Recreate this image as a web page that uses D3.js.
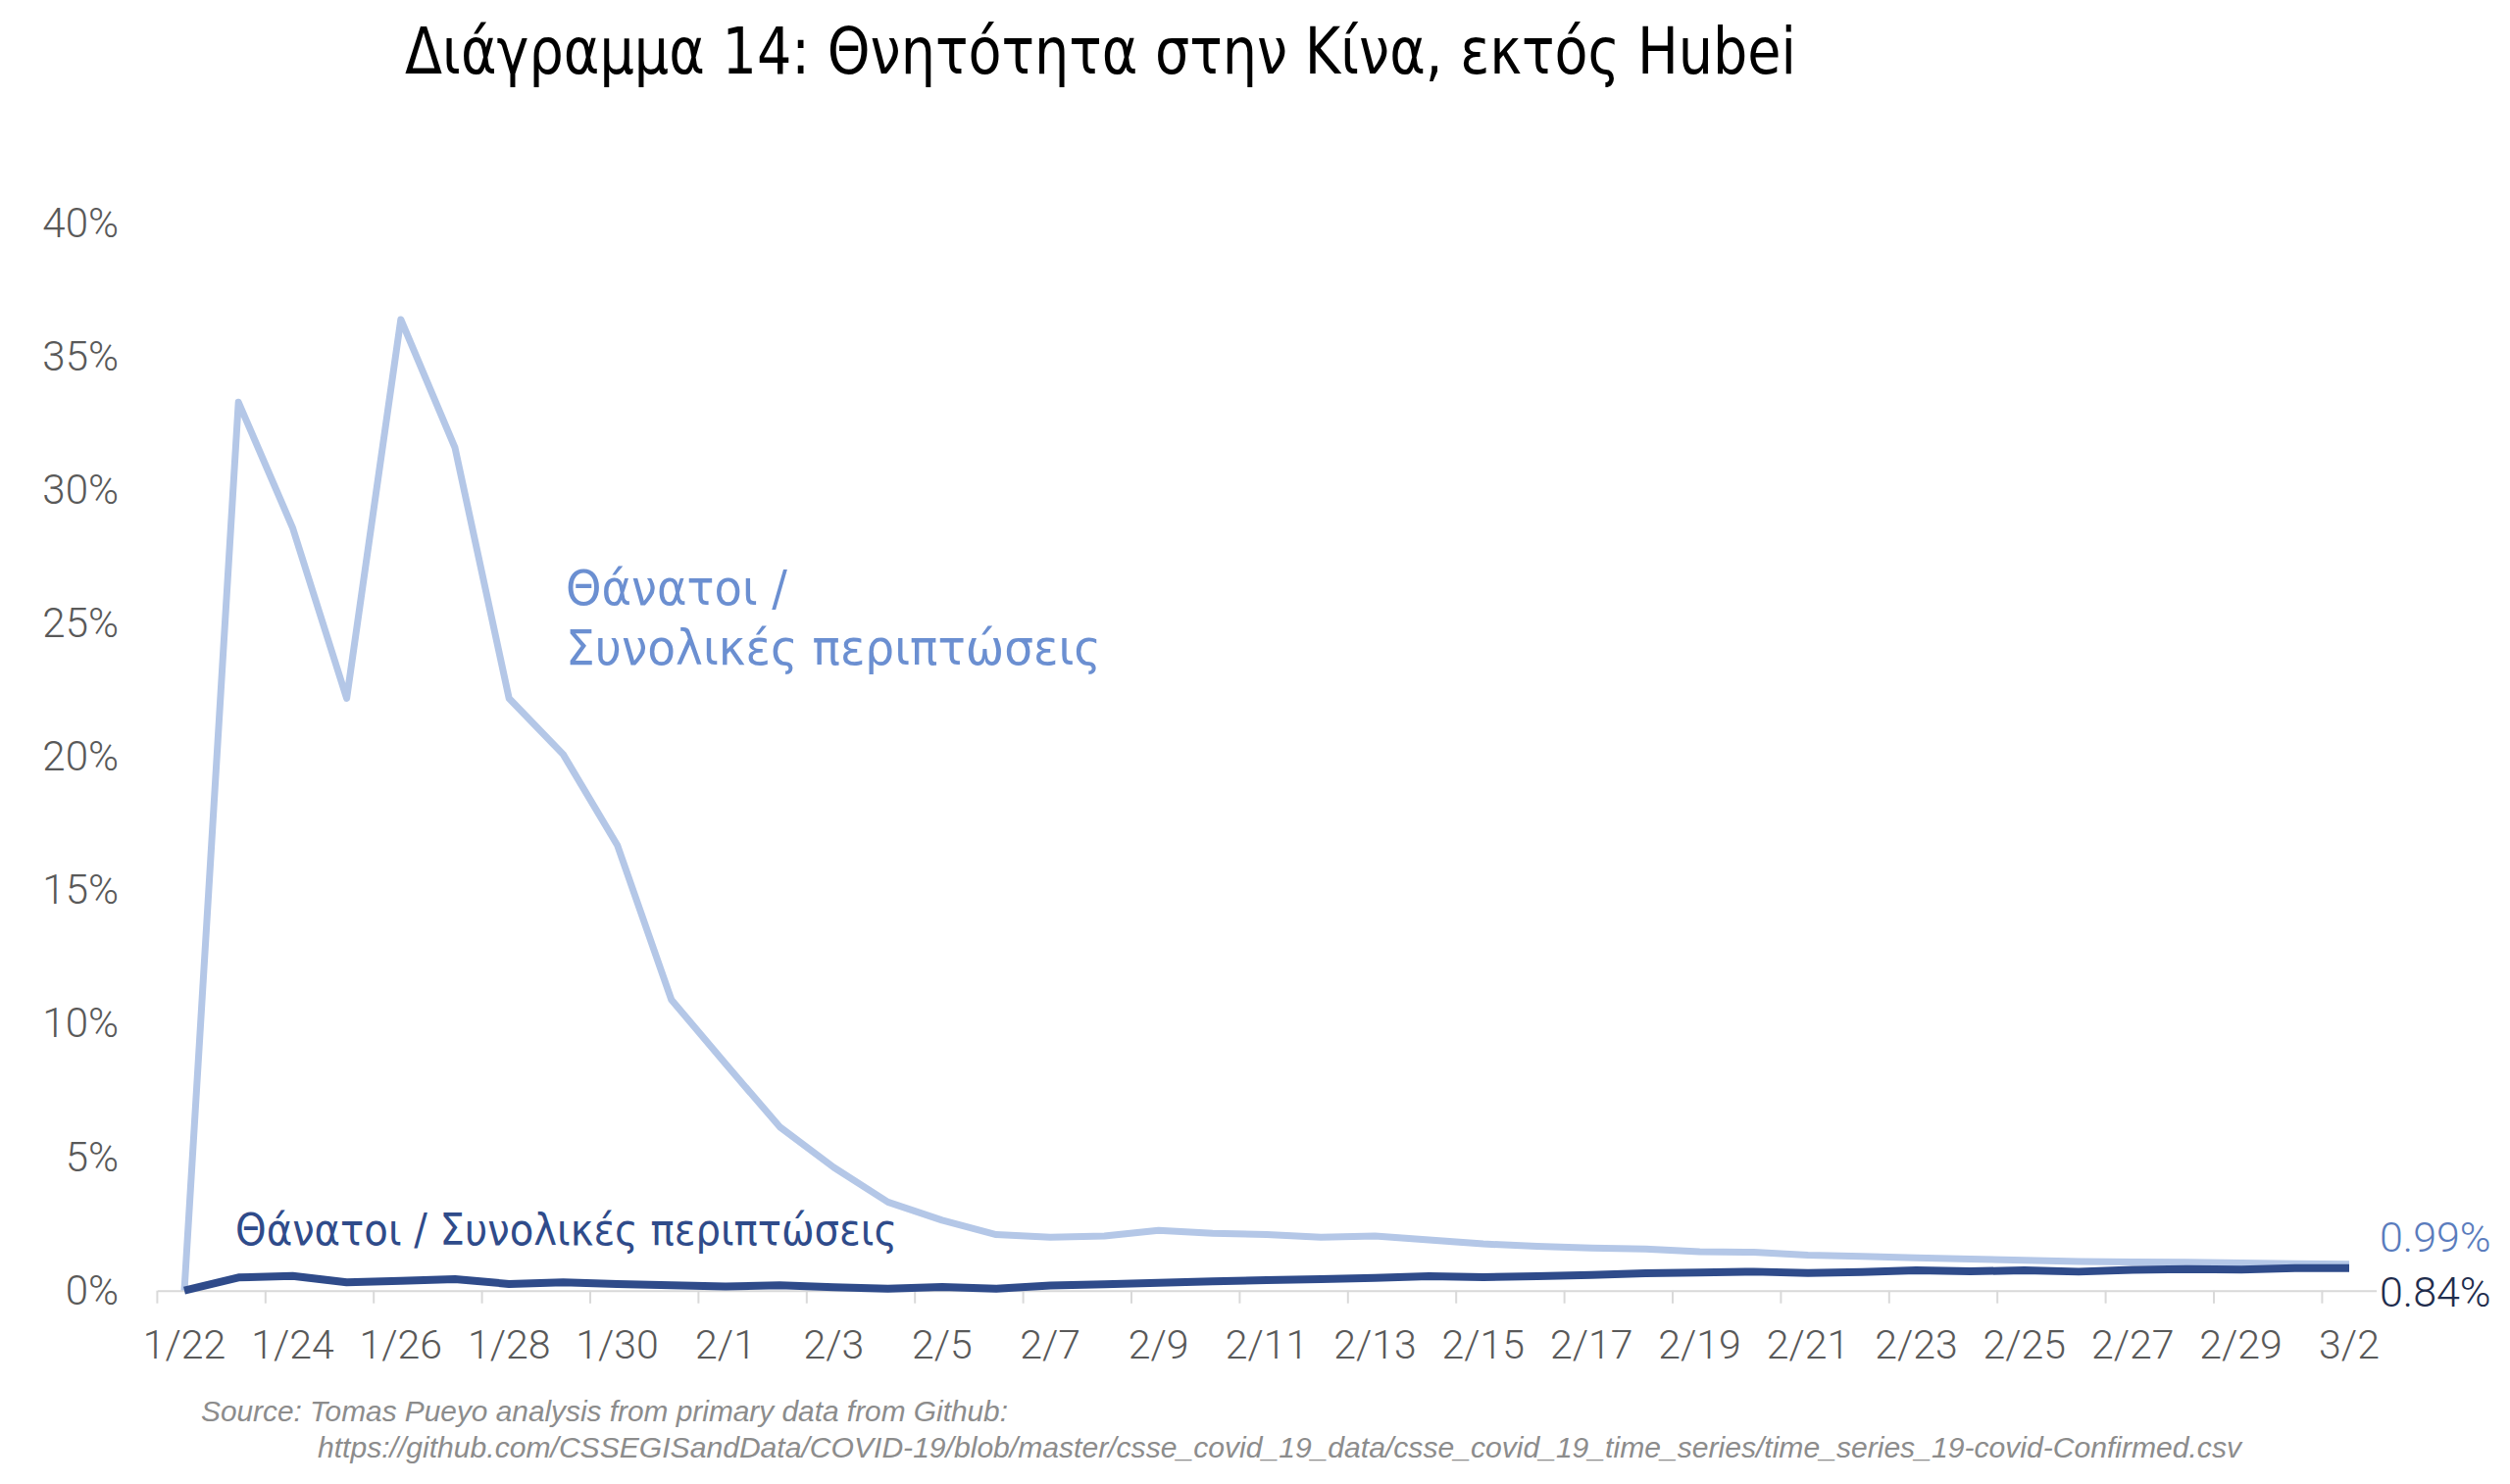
<!DOCTYPE html>
<html>
<head>
<meta charset="utf-8">
<script src="https://cdn.jsdelivr.net/npm/d3@7"></script>
<style>
  body { margin: 0; background: #fff; }
  svg { display: block; }
</style>
</head>
<body>
<div id="chart"></div>
<script>
// dates on the category axis, one per day
var dates = ["1/22","1/23","1/24","1/25","1/26","1/27","1/28","1/29","1/30","1/31",
  "2/1","2/2","2/3","2/4","2/5","2/6","2/7","2/8","2/9","2/10",
  "2/11","2/12","2/13","2/14","2/15","2/16","2/17","2/18","2/19","2/20",
  "2/21","2/22","2/23","2/24","2/25","2/26","2/27","2/28","2/29","3/1","3/2"];

// deaths / total cases, light series (%)
var lightValues = [0, 33.3, 28.6, 22.2, 36.4, 31.6, 22.2, 20.1, 16.7, 10.9,
  8.5, 6.14, 4.62, 3.32, 2.64, 2.1, 2.0, 2.05, 2.26, 2.15,
  2.1, 2.0, 2.05, 1.9, 1.75, 1.66, 1.6, 1.56, 1.46, 1.44,
  1.33, 1.28, 1.23, 1.18, 1.14, 1.09, 1.07, 1.06, 1.04, 1.01, 0.99];

// deaths / total cases, dark series (%)
var darkValues = [0, 0.49, 0.55, 0.31, 0.37, 0.43, 0.25, 0.31, 0.25, 0.2,
  0.15, 0.2, 0.13, 0.07, 0.14, 0.07, 0.19, 0.24, 0.29, 0.35,
  0.39, 0.43, 0.48, 0.54, 0.5, 0.54, 0.59, 0.65, 0.68, 0.71,
  0.66, 0.7, 0.76, 0.72, 0.76, 0.71, 0.78, 0.81, 0.79, 0.84, 0.84];

var yTicks = [0, 5, 10, 15, 20, 25, 30, 35, 40];

var titleText = "Διάγραμμα 14: Θνητότητα στην Κίνα, εκτός Hubei";
var lightLabel = ["Θάνατοι /", "Συνολικές περιπτώσεις"];
var darkLabel = "Θάνατοι / Συνολικές περιπτώσεις";
var sourceLines = ["Source: Tomas Pueyo analysis from primary data from Github:",
  "https://github.com/CSSEGISandData/COVID-19/blob/master/csse_covid_19_data/csse_covid_19_time_series/time_series_19-covid-Confirmed.csv"];

var W = 2560, H = 1514;
var axisFont = "Roboto, 'Liberation Sans', sans-serif";

var svg = d3.select("#chart").append("svg")
  .attr("width", W)
  .attr("height", H);

svg.append("rect").attr("width", W).attr("height", H).attr("fill", "#fff");

var x = d3.scaleBand()
  .domain(dates)
  .range([160.4, 2423.6])
  .paddingInner(0)
  .paddingOuter(0);

var y = d3.scaleLinear()
  .domain([0, 40])
  .range([1316.7, 228]);

function cx(d) { return x(d) + x.bandwidth() / 2; }

// title
svg.append("text")
  .attr("x", 413)
  .attr("y", 75)
  .attr("textLength", 1419)
  .attr("lengthAdjust", "spacingAndGlyphs")
  .style("font-family", "'DejaVu Sans', sans-serif")
  .style("font-size", "66px")
  .style("fill", "#000")
  .text(titleText);

// y axis (labels only)
var yAxis = svg.append("g")
  .attr("transform", "translate(121,0)")
  .call(d3.axisLeft(y).tickValues(yTicks).tickSize(0).tickPadding(0)
    .tickFormat(function(d) { return d + "%"; }));
yAxis.select(".domain").remove();
yAxis.selectAll("text")
  .style("font-family", axisFont)
  .style("font-weight", 300)
  .style("font-size", "42px")
  .style("fill", "#595959");

// x axis
var xAxis = svg.append("g")
  .attr("transform", "translate(0," + y(0) + ")")
  .call(d3.axisBottom(x)
    .tickValues(dates.filter(function(d, i) { return i % 2 == 0; }))
    .tickSize(0).tickPadding(40));
xAxis.select(".domain")
  .attr("stroke", "#d9d9d9")
  .attr("stroke-width", 2);
xAxis.selectAll("text")
  .style("font-family", axisFont)
  .style("font-weight", 300)
  .style("font-size", "41px")
  .style("fill", "#595959");

// tick marks between categories, every 2nd boundary
var boundaries = dates.filter(function(d, i) { return i % 2 == 0; });
xAxis.selectAll("line.sep")
  .data(boundaries)
  .enter().append("line")
  .attr("class", "sep")
  .attr("x1", function(d) { return x(d); })
  .attr("x2", function(d) { return x(d); })
  .attr("y1", 0)
  .attr("y2", 13)
  .attr("stroke", "#d9d9d9")
  .attr("stroke-width", 2);

var line = d3.line()
  .x(function(d, i) { return cx(dates[i]); })
  .y(function(d) { return y(d); });

svg.append("path")
  .datum(lightValues)
  .attr("d", line)
  .attr("fill", "none")
  .attr("stroke", "#b4c7e7")
  .attr("stroke-width", 7)
  .attr("stroke-linejoin", "round");

svg.append("path")
  .datum(darkValues)
  .attr("d", line)
  .attr("fill", "none")
  .attr("stroke", "#2f4b8a")
  .attr("stroke-width", 8)
  .attr("stroke-linejoin", "round");

// series labels
var lt = svg.append("text")
  .style("font-family", "'DejaVu Sans', sans-serif")
  .style("font-size", "50px")
  .style("fill", "#6b8fd1");
lt.append("tspan").attr("x", 577).attr("y", 617)
  .attr("textLength", 226).attr("lengthAdjust", "spacingAndGlyphs")
  .text(lightLabel[0]);
lt.append("tspan").attr("x", 577).attr("y", 678)
  .attr("textLength", 546).attr("lengthAdjust", "spacingAndGlyphs")
  .text(lightLabel[1]);

svg.append("text")
  .attr("x", 240)
  .attr("y", 1270)
  .attr("textLength", 675)
  .attr("lengthAdjust", "spacingAndGlyphs")
  .style("font-family", "'DejaVu Sans', sans-serif")
  .style("font-size", "44px")
  .style("fill", "#2f4b8a")
  .text(darkLabel);

// end values
var last = dates.length - 1;
svg.append("text")
  .attr("x", 2427)
  .attr("y", 1262)
  .attr("dy", "0.35em")
  .style("font-family", axisFont)
  .style("font-weight", 300)
  .style("font-size", "43px")
  .style("fill", "#5a7cbd")
  .text(lightValues[last].toFixed(2) + "%");
svg.append("text")
  .attr("x", 2427)
  .attr("y", 1318)
  .attr("dy", "0.35em")
  .style("font-family", axisFont)
  .style("font-weight", 300)
  .style("font-size", "43px")
  .style("fill", "#1f2d4d")
  .text(darkValues[last].toFixed(2) + "%");

// source note
var srcX = [205, 324], srcY = [1450, 1487], srcW = [823, 1962];
sourceLines.forEach(function(s, i) {
  svg.append("text")
    .attr("x", srcX[i])
    .attr("y", srcY[i])
    .attr("textLength", srcW[i])
    .attr("lengthAdjust", "spacingAndGlyphs")
    .style("font-family", "'Liberation Sans', Arial, sans-serif")
    .style("font-style", "italic")
    .style("font-size", "29px")
    .style("fill", "#8c8c8c")
    .text(s);
});
</script>
</body>
</html>
